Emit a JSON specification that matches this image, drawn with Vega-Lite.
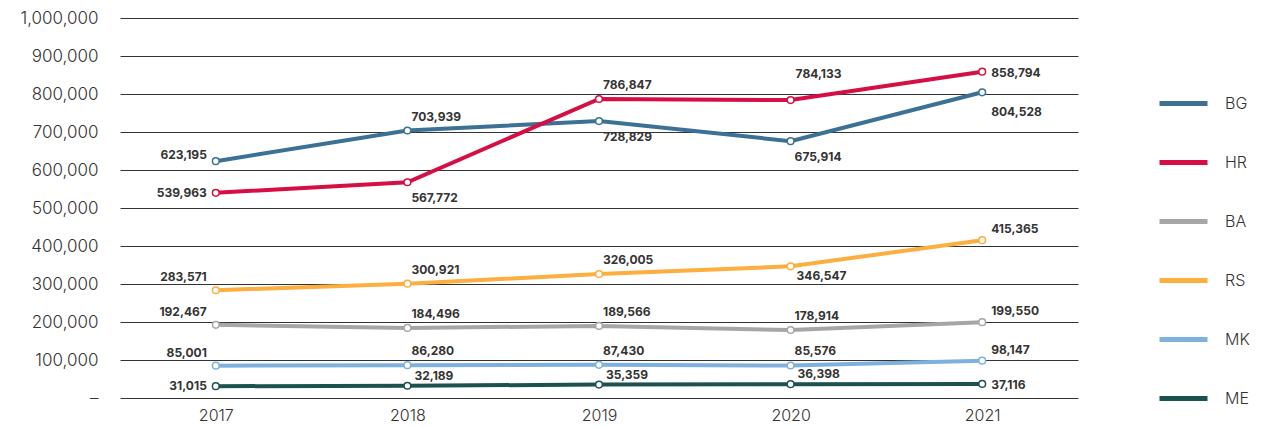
{
  "$schema": "https://vega.github.io/schema/vega-lite/v6.json",
  "autosize": {"type": "none"},
  "width": 958,
  "height": 380,
  "padding": {"left": 120, "top": 18, "right": 193, "bottom": 29},
  "background": "white",
  "config": {
    "view": {"stroke": null},
    "font": "Inter",
    "axis": {"labelFont": "Inter", "labelColor": "#333333"},
    "legend": {"labelFont": "Inter"}
  },
  "data": {
    "values": [
      {"year": "2017", "c": "BG", "v": 623195},
      {"year": "2018", "c": "BG", "v": 703939},
      {"year": "2019", "c": "BG", "v": 728829},
      {"year": "2020", "c": "BG", "v": 675914},
      {"year": "2021", "c": "BG", "v": 804528},
      {"year": "2017", "c": "HR", "v": 539963},
      {"year": "2018", "c": "HR", "v": 567772},
      {"year": "2019", "c": "HR", "v": 786847},
      {"year": "2020", "c": "HR", "v": 784133},
      {"year": "2021", "c": "HR", "v": 858794},
      {"year": "2017", "c": "BA", "v": 192467},
      {"year": "2018", "c": "BA", "v": 184496},
      {"year": "2019", "c": "BA", "v": 189566},
      {"year": "2020", "c": "BA", "v": 178914},
      {"year": "2021", "c": "BA", "v": 199550},
      {"year": "2017", "c": "RS", "v": 283571},
      {"year": "2018", "c": "RS", "v": 300921},
      {"year": "2019", "c": "RS", "v": 326005},
      {"year": "2020", "c": "RS", "v": 346547},
      {"year": "2021", "c": "RS", "v": 415365},
      {"year": "2017", "c": "MK", "v": 85001},
      {"year": "2018", "c": "MK", "v": 86280},
      {"year": "2019", "c": "MK", "v": 87430},
      {"year": "2020", "c": "MK", "v": 85576},
      {"year": "2021", "c": "MK", "v": 98147},
      {"year": "2017", "c": "ME", "v": 31015},
      {"year": "2018", "c": "ME", "v": 32189},
      {"year": "2019", "c": "ME", "v": 35359},
      {"year": "2020", "c": "ME", "v": 36398},
      {"year": "2021", "c": "ME", "v": 37116}
    ]
  },
  "encoding": {
    "x": {
      "field": "year", "type": "ordinal",
      "scale": {"type": "point", "padding": 0.5},
      "axis": {"title": null, "labelAngle": 0, "domain": false, "ticks": false, "labelFontSize": 16, "labelFontWeight": 300, "labelPadding": 9, "labelColor": "#333333"}
    },
    "y": {
      "field": "v", "type": "quantitative",
      "scale": {"domain": [0, 1000000], "nice": false},
      "axis": {
        "title": null, "domain": false, "ticks": false,
        "values": [0, 100000, 200000, 300000, 400000, 500000, 600000, 700000, 800000, 900000, 1000000],
        "labelExpr": "datum.value == 0 ? '–' : format(datum.value, ',')",
        "labelFontSize": 17, "labelFontWeight": 300, "labelPadding": 22, "labelColor": "#333333",
        "grid": true, "gridColor": "#333333", "gridWidth": 1, "gridOpacity": 1
      }
    }
  },
  "layer": [
    {
      "mark": {"type": "line", "strokeWidth": 4, "strokeCap": "round"},
      "encoding": {
        "color": {
          "field": "c", "type": "nominal",
          "scale": {"domain": ["BG", "HR", "BA", "RS", "MK", "ME"], "range": ["#3b7194", "#d50f45", "#a6a6a6", "#fcae3e", "#7fb1df", "#1c524e"]},
          "legend": {
            "title": null, "orient": "none", "legendX": 1037, "legendY": 59,
            "symbolType": "stroke", "symbolSize": 2304, "symbolStrokeWidth": 5,
            "labelFontSize": 16, "labelFontWeight": 300, "labelColor": "#333333", "labelOffset": 15, "rowPadding": 22
          }
        }
      }
    },
    {
      "mark": {"type": "point", "filled": true, "fill": "white", "size": 45, "strokeWidth": 1.5, "opacity": 1},
      "encoding": {"stroke": {"field": "c", "type": "nominal", "legend": null, "scale": {"domain": ["BG", "HR", "BA", "RS", "MK", "ME"], "range": ["#3b7194", "#d50f45", "#a6a6a6", "#fcae3e", "#7fb1df", "#1c524e"]}}}
    },
    {
      "transform": [{"filter": "datum.year == '2017' && (datum.c == 'HR' || datum.c == 'ME')"}],
      "mark": {"type": "text", "align": "right", "baseline": "middle", "dx": -9, "dy": 0, "fontSize": 12, "fontWeight": "bold", "color": "#333333"},
      "encoding": {"text": {"field": "v", "type": "quantitative", "format": ","}}
    },
    {
      "transform": [{"filter": "datum.year == '2017' && datum.c == 'BG'"}],
      "mark": {"type": "text", "align": "right", "baseline": "middle", "dx": -9, "dy": -6, "fontSize": 12, "fontWeight": "bold", "color": "#333333"},
      "encoding": {"text": {"field": "v", "type": "quantitative", "format": ","}}
    },
    {
      "transform": [{"filter": "datum.year == '2017' && (datum.c == 'RS' || datum.c == 'BA' || datum.c == 'MK')"}],
      "mark": {"type": "text", "align": "right", "baseline": "middle", "dx": -9, "dy": -13, "fontSize": 12, "fontWeight": "bold", "color": "#333333"},
      "encoding": {"text": {"field": "v", "type": "quantitative", "format": ","}}
    },
    {
      "transform": [{"filter": "(datum.year == '2018' || datum.year == '2019' || datum.year == '2020') && datum.c != 'ME' && !(datum.year == '2018' && datum.c == 'HR') && !(datum.year == '2019' && datum.c == 'BG') && !(datum.year == '2020' && (datum.c == 'BG' || datum.c == 'RS' || datum.c == 'HR'))"}],
      "mark": {"type": "text", "align": "left", "baseline": "middle", "dx": 4, "dy": -14, "fontSize": 12, "fontWeight": "bold", "color": "#333333"},
      "encoding": {"text": {"field": "v", "type": "quantitative", "format": ","}}
    },
    {
      "transform": [{"filter": "(datum.year == '2018' || datum.year == '2019' || datum.year == '2020') && datum.c == 'ME'"}],
      "mark": {"type": "text", "align": "left", "baseline": "middle", "dx": 7, "dy": -10, "fontSize": 12, "fontWeight": "bold", "color": "#333333"},
      "encoding": {"text": {"field": "v", "type": "quantitative", "format": ","}}
    },
    {
      "transform": [{"filter": "datum.year == '2020' && datum.c == 'HR'"}],
      "mark": {"type": "text", "align": "left", "baseline": "middle", "dx": 5, "dy": -26, "fontSize": 12, "fontWeight": "bold", "color": "#333333"},
      "encoding": {"text": {"field": "v", "type": "quantitative", "format": ","}}
    },
    {
      "transform": [{"filter": "(datum.year == '2018' && datum.c == 'HR') || (datum.year == '2019' && datum.c == 'BG') || (datum.year == '2020' && datum.c == 'BG')"}],
      "mark": {"type": "text", "align": "left", "baseline": "middle", "dx": 4, "dy": 16, "fontSize": 12, "fontWeight": "bold", "color": "#333333"},
      "encoding": {"text": {"field": "v", "type": "quantitative", "format": ","}}
    },
    {
      "transform": [{"filter": "datum.year == '2020' && datum.c == 'RS'"}],
      "mark": {"type": "text", "align": "left", "baseline": "middle", "dx": 6, "dy": 10, "fontSize": 12, "fontWeight": "bold", "color": "#333333"},
      "encoding": {"text": {"field": "v", "type": "quantitative", "format": ","}}
    },
    {
      "transform": [{"filter": "datum.year == '2021' && (datum.c == 'HR' || datum.c == 'ME')"}],
      "mark": {"type": "text", "align": "left", "baseline": "middle", "dx": 9, "dy": 1, "fontSize": 12, "fontWeight": "bold", "color": "#333333"},
      "encoding": {"text": {"field": "v", "type": "quantitative", "format": ","}}
    },
    {
      "transform": [{"filter": "datum.year == '2021' && (datum.c == 'RS' || datum.c == 'BA' || datum.c == 'MK')"}],
      "mark": {"type": "text", "align": "left", "baseline": "middle", "dx": 9, "dy": -11, "fontSize": 12, "fontWeight": "bold", "color": "#333333"},
      "encoding": {"text": {"field": "v", "type": "quantitative", "format": ","}}
    },
    {
      "transform": [{"filter": "datum.year == '2021' && datum.c == 'BG'"}],
      "mark": {"type": "text", "align": "left", "baseline": "middle", "dx": 9, "dy": 20, "fontSize": 12, "fontWeight": "bold", "color": "#333333"},
      "encoding": {"text": {"field": "v", "type": "quantitative", "format": ","}}
    }
  ]
}
